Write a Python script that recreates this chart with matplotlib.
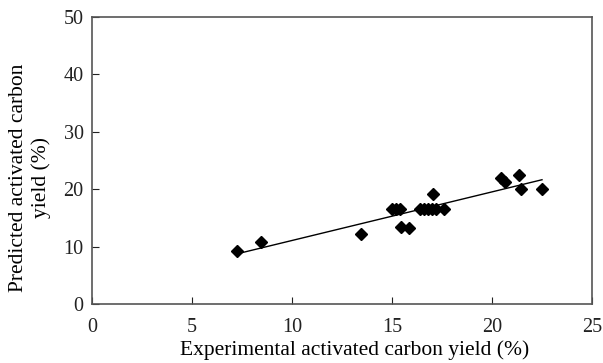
import numpy as np
import matplotlib.pyplot as plt

plt.rcParams['font.family'] = ['Liberation Serif', 'DejaVu Serif']

# Experimental vs predicted activated carbon yield (%)
experimental = [7.27, 8.43, 13.43, 15.0, 15.2, 15.4, 15.43, 15.87,
                16.4, 16.6, 16.8, 17.0, 17.2, 17.07, 17.6,
                20.43, 20.65, 21.37, 21.45, 22.5]
predicted = [9.2, 10.8, 12.2, 16.5, 16.5, 16.5, 13.5, 13.3,
             16.5, 16.5, 16.5, 16.5, 16.5, 19.1, 16.5,
             22.0, 21.2, 22.5, 20.0, 20.0]

x_ticks = [0, 5, 10, 15, 20, 25]
y_ticks = [0, 10, 20, 30, 40, 50]

fig = plt.figure(figsize=(6.03, 3.63), dpi=100)
ax = fig.add_axes([92 / 603, 59 / 363, 500 / 603, 287 / 363])

ax.plot(experimental, predicted, 'kD', markersize=6, zorder=3)

# linear trend line
coef = np.polyfit(experimental, predicted, 1)
xs = np.array([min(experimental), max(experimental)])
ax.plot(xs, np.polyval(coef, xs), 'k-', linewidth=1.0)

ax.set_xlim(0, 25)
ax.set_ylim(0, 50)
ax.set_xticks(x_ticks)
ax.set_yticks(y_ticks)
ax.tick_params(direction='in', length=5, labelsize=14.5, colors='#222222')
ax.tick_params(axis='x', pad=10)
ax.tick_params(axis='y', pad=6)
for s in ax.spines.values():
    s.set_color('#555555')
    s.set_linewidth(1.2)

ax.set_xlabel('Experimental activated carbon yield (%)', fontsize=15.5)
ax.xaxis.set_label_coords(0.526, -0.128)
ax.set_ylabel('Predicted activated carbon\nyield (%)', fontsize=15.5, linespacing=1.2)
ax.yaxis.set_label_coords(-0.082, 0.44)

fig.savefig('out.png', dpi=100)
